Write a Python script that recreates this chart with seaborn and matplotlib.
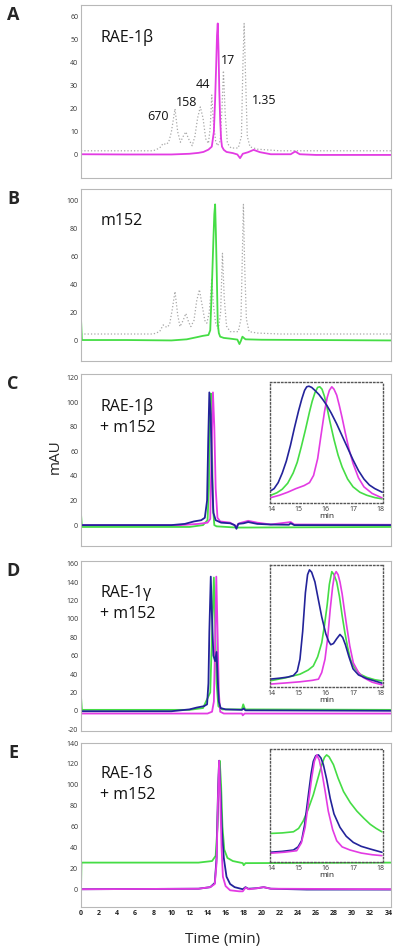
import matplotlib
matplotlib.use("Agg")
import matplotlib.pyplot as plt
import seaborn as sns

sns.set_style("white")
plt.rcParams['font.family'] = ['Open Sans', 'DejaVu Sans']

## Data (time in min, signal in mAU)
# Panel A
a_std_t = [0, 8, 8.7, 9.1, 9.4, 9.7, 10.0, 10.4, 10.7, 11.0, 11.3, 11.6, 11.9, 12.3, 12.6, 12.9, 13.2, 13.5, 13.8, 14.1, 14.3, 14.47, 14.65, 14.9, 15.1, 15.4, 15.6, 15.76, 15.95, 16.2, 16.6, 17.4, 17.75, 17.92, 18.05, 18.2, 18.4, 18.7, 19.5, 22, 34.3]
a_std_v = [1.8, 1.8, 3, 5, 4.5, 5.5, 10, 20, 10, 5.5, 8, 10, 7, 4, 8, 16, 20.8, 16, 7, 5, 12, 26, 14, 6, 4, 6, 20, 36.5, 18, 5, 3, 3, 8, 40, 57, 35, 8, 3.5, 2.5, 1.8, 1.8]
a_rae_t = [0, 5, 10, 12, 13, 13.55, 14.1, 14.47, 14.7, 14.84, 14.95, 15.05, 15.13, 15.22, 15.3, 15.4, 15.5, 15.6, 15.8, 16.1, 16.8, 17.3, 17.6, 17.9, 18.5, 19.1, 19.8, 21, 23.2, 23.7, 24.2, 26, 34.3]
a_rae_v = [0.3, 0.2, 0.2, 0.5, 0.9, 1.3, 2.3, 3.6, 10, 24, 38, 52, 57, 45, 28, 15, 7, 3.6, 2.2, 1.3, 0.8, 0.2, -1.4, 0.5, 1.2, 2.2, 1.2, 0.3, 0.3, 1.5, 0.3, 0, 0]
a_peak_labels = ['670', '158', '44', '17', '1.35']

# Panel B
b_std_t = [0, 8, 8.7, 9.1, 9.5, 9.8, 10.1, 10.4, 10.7, 10.95, 11.3, 11.6, 11.9, 12.15, 12.5, 12.8, 13.1, 13.4, 13.7, 13.92, 14.2, 14.47, 14.65, 14.9, 15.2, 15.45, 15.65, 15.85, 16.1, 16.5, 17.4, 17.7, 17.85, 17.97, 18.1, 18.3, 18.6, 19.5, 22, 34.3]
b_std_v = [4.3, 4.3, 6, 10.8, 9, 11, 22, 34.7, 18, 9.6, 14, 19, 13, 9.6, 14, 28, 36, 25, 14, 12, 20, 44, 25, 12, 8, 20, 62, 30, 10, 6, 6, 15, 60, 97, 55, 15, 6, 5, 4.3, 4.3]
b_m152_t = [0, 0.1, 5, 10, 11.7, 12.8, 13.5, 14.1, 14.3, 14.47, 14.65, 14.75, 14.84, 14.93, 15.02, 15.13, 15.25, 15.4, 15.8, 16.5, 17.3, 17.53, 17.7, 17.86, 18.2, 20, 34.3]
b_m152_v = [15, 0, 0, -0.3, 0.5, 2, 3, 3.6, 7, 36, 72, 90, 97, 75, 48, 12, 5, 2.4, 1.5, 1, 0.3, -2.9, -0.5, 2.4, 0.5, 0.2, -0.3]

# Panel C
c_blue_t = [0, 10, 11.5, 12.5, 13.3, 13.7, 13.95, 14.08, 14.2, 14.35, 14.5, 14.65, 14.9, 15.5, 16.5, 17.0, 17.2, 17.4, 18.0, 18.5, 19.5, 21, 23, 23.2, 23.6, 34.3]
c_blue_v = [0, 0, 1, 3, 4, 6, 20, 70, 108, 90, 40, 10, 4, 2, 1.5, 0, -3, 1, 1.5, 2.5, 1, 0.5, 0.3, 1.5, 0, 0]
c_green_t = [0, 0.1, 12, 13.5, 14.0, 14.15, 14.28, 14.38, 14.5, 14.6, 14.75, 15.0, 17.2, 34.3]
c_green_v = [9, -1.5, -1.5, 0, 4, 30, 100, 107, 60, 15, 0, -1, -2, -1.5]
c_mag_t = [0, 11, 13, 14.0, 14.3, 14.45, 14.6, 14.75, 14.9, 15.1, 15.4, 16.5, 17.2, 17.5, 18.5, 19.5, 21, 23.2, 23.6, 34.3]
c_mag_v = [0, 0, 1, 2, 5, 60, 108, 80, 30, 6, 3, 2, -1, 1.5, 3.5, 2, 0.5, 2.5, 0.5, 0.3]
# Panel C inset (relative signal)
ci_blue_t = [13.95, 14.1, 14.25, 14.4, 14.55, 14.7, 14.85, 15.0, 15.12, 15.22, 15.3, 15.38, 15.48, 15.6, 15.75, 15.9, 16.05, 16.2, 16.4, 16.6, 16.8, 17.0, 17.2, 17.4, 17.6, 17.8, 18.07]
ci_blue_v = [8.8, 11, 16, 24, 34, 47, 62, 76, 86, 93, 96, 96.5, 95.5, 93, 89.5, 85, 80, 74, 65, 55, 45, 35, 26, 19, 14, 11, 8]
ci_green_t = [13.95, 14.2, 14.4, 14.6, 14.8, 14.95, 15.1, 15.25, 15.4, 15.5, 15.6, 15.7, 15.78, 15.86, 15.95, 16.05, 16.15, 16.3, 16.45, 16.6, 16.8, 17.0, 17.25, 17.5, 17.8, 18.06]
ci_green_v = [5.2, 7.5, 10.5, 15.5, 24, 33, 46, 60, 75, 84, 91, 95.5, 96, 94, 88, 78, 67, 52, 39, 29, 19, 12.5, 8, 5.5, 3.5, 2.5]
ci_mag_t = [13.95, 14.3, 14.6, 14.9, 15.2, 15.4, 15.55, 15.7, 15.82, 15.95, 16.05, 16.13, 16.22, 16.3, 16.4, 16.5, 16.6, 16.72, 16.85, 17.0, 17.2, 17.4, 17.7, 18.06]
ci_mag_v = [3.3, 5.5, 8, 11, 13.5, 16, 22, 36, 55, 75, 87, 93, 96, 94, 89, 80, 70, 57, 44, 32, 20, 12.5, 7, 3.3]

# Panel D
d_blue_t = [0, 10, 12, 12.8, 13.6, 13.95, 14.1, 14.2, 14.36, 14.5, 14.65, 14.84, 15.0, 15.12, 15.25, 15.45, 16, 17.8, 18.0, 18.2, 34.3]
d_blue_v = [-0.5, -0.5, 1.5, 3.5, 5, 7, 30, 86, 146, 100, 60, 54, 64, 35, 10, 3, 1.5, 1, 2.5, 0.5, 0]
d_green_t = [0, 0.1, 12, 13.5, 14.3, 14.55, 14.7, 14.85, 15.0, 15.2, 15.6, 17.8, 17.95, 18.15, 34.3]
d_green_v = [15, 1, 1, 3, 20, 100, 145, 90, 30, 5, 1.5, 1.5, 7, 1.5, 1]
d_mag_t = [0, 14, 14.5, 14.7, 14.85, 14.97, 15.1, 15.25, 15.4, 15.8, 17.8, 17.9, 18.1, 34.3]
d_mag_v = [-3, -3, -1, 10, 80, 146, 90, 20, -1, -3, -3, -5, -3, -3]
# Panel D inset
di_blue_t = [13.95, 14.3, 14.6, 14.81, 14.95, 15.05, 15.15, 15.25, 15.33, 15.4, 15.48, 15.6, 15.72, 15.85, 16.0, 16.1, 16.18, 16.28, 16.4, 16.52, 16.62, 16.72, 16.85, 17.0, 17.2, 17.5, 17.8, 18.06]
di_blue_v = [5.5, 6.3, 7.2, 8.5, 12, 22, 45, 77, 92, 96, 94, 86, 72, 57, 43, 37, 34, 35, 39, 42.5, 40, 34, 24, 14, 9, 6, 4, 2.2]
di_green_t = [13.95, 14.5, 15.05, 15.35, 15.54, 15.7, 15.85, 15.95, 16.05, 16.13, 16.22, 16.3, 16.4, 16.5, 16.6, 16.7, 16.8, 16.9, 17.05, 17.26, 17.5, 17.8, 18.06]
di_green_v = [4.1, 6.5, 9.6, 13, 16.4, 24, 35.6, 50, 67, 84, 94.5, 92, 86, 74, 58, 44, 32, 22, 15, 9.6, 7, 5, 4.1]
di_mag_t = [13.95, 14.5, 15.05, 15.5, 15.73, 15.85, 15.97, 16.07, 16.16, 16.25, 16.32, 16.38, 16.45, 16.52, 16.6, 16.68, 16.77, 16.88, 17.01, 17.2, 17.38, 17.7, 18.06]
di_mag_v = [1.4, 2.3, 3.3, 4.5, 5.5, 11, 22, 40, 63, 82, 92, 94.5, 92, 86, 76, 63, 49, 33, 19, 11, 6.8, 3, 0.8]

# Panel E
e_blue_t = [0, 13, 14.3, 14.8, 15.0, 15.15, 15.28, 15.45, 15.6, 15.8, 16.1, 16.5, 17, 17.9, 18.2, 18.5, 19.5, 20.2, 21, 25, 34.3]
e_blue_v = [0, 0.5, 2, 6, 30, 90, 123, 90, 55, 30, 12, 5, 2, 0, 2, 0.5, 1, 2, 0.5, -0.3, -0.3]
e_green_t = [0, 0.05, 13, 14.5, 14.9, 15.1, 15.25, 15.35, 15.5, 15.65, 15.85, 16.2, 16.8, 17.9, 18.0, 18.2, 34.3]
e_green_v = [0, 25.5, 25.5, 27, 32, 60, 110, 123, 100, 60, 38, 30, 27, 25, 23, 25, 25.5]
e_mag_t = [0, 13, 14.3, 14.8, 15.0, 15.15, 15.28, 15.4, 15.55, 15.7, 16, 16.5, 17.5, 17.9, 18.2, 18.6, 19.5, 20.2, 21, 34.3]
e_mag_v = [0, 0.5, 2, 5, 25, 85, 123, 90, 40, 12, 3, -1, -2, -2, 1.5, 0, 1, 2, 0.5, 0]
# Panel E inset
ei_blue_t = [13.95, 14.4, 14.81, 14.98, 15.11, 15.22, 15.36, 15.46, 15.54, 15.63, 15.73, 15.82, 15.91, 16.03, 16.16, 16.3, 16.52, 16.75, 17.01, 17.3, 17.63, 18.06]
ei_blue_v = [7.7, 8.5, 9.7, 12.5, 18, 32, 59, 78, 89, 94, 94.7, 92, 86, 73, 56, 42, 30, 22, 16.5, 13, 10.6, 7.7]
ei_green_t = [13.95, 14.4, 14.81, 15.0, 15.17, 15.35, 15.54, 15.7, 15.85, 15.95, 16.03, 16.12, 16.28, 16.45, 16.65, 16.9, 17.14, 17.4, 17.63, 17.85, 18.06]
ei_green_v = [24.5, 25, 26, 29, 35.7, 46, 59, 73, 86, 92.5, 94.7, 93, 86, 74, 62, 52, 44.5, 38, 32.7, 29, 26]
ei_mag_t = [13.95, 14.5, 14.93, 15.1, 15.24, 15.36, 15.48, 15.58, 15.67, 15.76, 15.85, 15.97, 16.09, 16.25, 16.40, 16.6, 16.89, 17.3, 17.7, 18.06]
ei_mag_v = [6.8, 7.8, 9.1, 16, 30, 52, 74, 89, 94.7, 90, 80, 63, 44.5, 28, 18, 12.5, 9.7, 7, 5.5, 4.7]

panel_names = ['A', 'B', 'C', 'D', 'E']
panel_titles = ['RAE-1\u03b2', 'm152', 'RAE-1\u03b2\n+ m152', 'RAE-1\u03b3\n+ m152', 'RAE-1\u03b4\n+ m152']
y_ticks = [range(0, 61, 10), range(0, 101, 20), range(0, 121, 20), range(-20, 161, 20), range(0, 141, 20)]
y_lims = [(-10, 65), (-15, 108), (-17, 123), (-22, 163), (-17, 140)]
x_ticks = list(range(0, 35, 2))
inset_ticks = [14, 15, 16, 17, 18]

MAG = '#e33be3'
GRN = '#45dd45'
BLU = '#23239a'
GRY = '#a8a8a8'

W, H = 400, 952
fig = plt.figure(figsize=(W / 100, H / 100), dpi=100)

def box(l, t, r, b):
    return [l / W, 1 - b / H, (r - l) / W, (b - t) / H]

# pixel boxes of the five panels
boxes = [(81, 5, 391, 178), (81, 189, 391, 361), (81, 374, 391, 546), (81, 561, 391, 731), (81, 743, 391, 907)]
inset_boxes = {2: (270, 382, 383, 503), 3: (270, 565, 383, 687), 4: (270, 749, 383, 862)}

traces = [
    [(a_std_t, a_std_v, GRY, ':'), (a_rae_t, a_rae_v, MAG, '-')],
    [(b_std_t, b_std_v, GRY, ':'), (b_m152_t, b_m152_v, GRN, '-')],
    [(c_green_t, c_green_v, GRN, '-'), (c_mag_t, c_mag_v, MAG, '-'), (c_blue_t, c_blue_v, BLU, '-')],
    [(d_green_t, d_green_v, GRN, '-'), (d_mag_t, d_mag_v, MAG, '-'), (d_blue_t, d_blue_v, BLU, '-')],
    [(e_green_t, e_green_v, GRN, '-'), (e_blue_t, e_blue_v, BLU, '-'), (e_mag_t, e_mag_v, MAG, '-')],
]
inset_traces = {
    2: [(ci_green_t, ci_green_v, GRN), (ci_mag_t, ci_mag_v, MAG), (ci_blue_t, ci_blue_v, BLU)],
    3: [(di_green_t, di_green_v, GRN), (di_mag_t, di_mag_v, MAG), (di_blue_t, di_blue_v, BLU)],
    4: [(ei_green_t, ei_green_v, GRN), (ei_blue_t, ei_blue_v, BLU), (ei_mag_t, ei_mag_v, MAG)],
}

for i in range(5):
    ax = fig.add_axes(box(*boxes[i]))
    for t, v, col, ls in traces[i]:
        lw = 0.9 if ls == ':' else 1.3
        sns.lineplot(x=t, y=v, ax=ax, color=col, lw=lw, linestyle=ls, estimator=None, sort=False)
    ax.set_xlim(0, 34.3)
    ax.set_ylim(*y_lims[i])
    ax.set_yticks(list(y_ticks[i]))
    ax.set_yticklabels([str(v) for v in y_ticks[i]], fontsize=5, color='#333333')
    if i == 4:
        ax.set_xticks(x_ticks)
        ax.set_xticklabels([str(v) for v in x_ticks], fontsize=5, color='#222222', fontweight='bold')
    else:
        ax.set_xticks([])
    ax.tick_params(length=0, pad=2)
    for s in ax.spines.values():
        s.set_color('#b8b8b8')
        s.set_linewidth(0.8)
    ax.set_xlabel('')
    ax.set_ylabel('')
    ax.text(0.062, 0.86, panel_titles[i], transform=ax.transAxes, fontsize=11.5,
            va='top', ha='left', linespacing=1.45, color='#111111')
    fig.text(13 / W, 1 - boxes[i][1] / H - 0.001, panel_names[i], fontsize=13, fontweight='bold',
             ha='center', va='top')

    if i in inset_boxes:
        ins = fig.add_axes(box(*inset_boxes[i]))
        for t, v, col in inset_traces[i]:
            sns.lineplot(x=t, y=v, ax=ins, color=col, lw=1.2, estimator=None, sort=False)
        ins.set_xlim(13.95, 18.1)
        ins.set_ylim(-1, 100)
        ins.set_yticks([])
        ins.set_xticks(inset_ticks)
        ins.set_xticklabels([str(v) for v in inset_ticks], fontsize=5, color='#333333')
        ins.tick_params(length=0, pad=2.5)
        ins.set_xlabel('min', fontsize=6, labelpad=-0.5, color='#222222')
        ins.set_ylabel('')
        for s in ins.spines.values():
            s.set_color('#555555')
            s.set_linestyle(':')
            s.set_linewidth(1.0)

# size-standard labels on panel A
label_pos = [(158, 117), (187, 102), (203, 85), (228, 60), (264, 100)]
for lab, (px, py) in zip(a_peak_labels, label_pos):
    fig.text(px / W, 1 - py / H, lab, fontsize=9, ha='center', va='center', color='#111111')

fig.text(55 / W, 1 - 457 / H, 'mAU', fontsize=11, rotation=90, ha='center', va='center')
fig.text(223 / W, 1 - 940 / H, 'Time (min)', fontsize=11, ha='center', va='center')

fig.savefig('out.png', dpi=100)
